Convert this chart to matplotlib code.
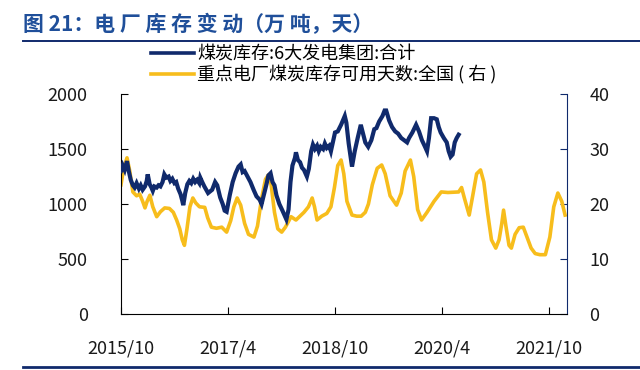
import matplotlib
matplotlib.use("Agg")
import matplotlib.pyplot as plt
from matplotlib.lines import Line2D
import pandas as pd

plt.rcParams['font.family'] = ['Noto Sans CJK SC', 'DejaVu Sans']

navy = '#102a6c'
gold = '#f7bd1c'

# 煤炭库存:6大发电集团:合计 (万吨)
stock_dates = [
    '2015-10-01', '2015-10-10', '2015-10-20', '2015-11-01', '2015-11-10', '2015-11-20',
    '2015-12-01', '2015-12-10', '2015-12-20', '2016-01-01', '2016-01-10', '2016-01-20',
    '2016-02-01', '2016-02-10', '2016-02-15', '2016-02-25', '2016-03-05', '2016-03-12',
    '2016-03-20', '2016-04-01', '2016-04-10', '2016-04-20', '2016-05-01', '2016-05-10',
    '2016-05-20', '2016-06-01', '2016-06-10', '2016-06-20', '2016-07-01', '2016-07-10',
    '2016-07-20', '2016-08-01', '2016-08-10', '2016-08-15', '2016-08-25', '2016-09-05',
    '2016-09-15', '2016-09-25', '2016-10-05', '2016-10-15', '2016-10-25', '2016-11-05',
    '2016-11-10', '2016-11-20', '2016-12-01', '2016-12-20', '2017-01-10', '2017-01-25',
    '2017-02-05', '2017-02-20', '2017-03-05', '2017-03-15', '2017-03-25', '2017-04-10',
    '2017-04-25', '2017-05-10', '2017-05-25', '2017-06-05', '2017-06-15', '2017-06-25',
    '2017-07-10', '2017-07-25', '2017-08-10', '2017-08-25', '2017-09-10', '2017-09-20',
    '2017-10-01', '2017-10-15', '2017-10-25', '2017-11-05', '2017-11-15', '2017-11-25',
    '2017-12-05', '2017-12-20', '2018-01-05', '2018-01-15', '2018-01-25', '2018-02-05',
    '2018-02-15', '2018-02-25', '2018-03-10', '2018-03-15', '2018-03-25', '2018-04-05',
    '2018-04-15', '2018-04-25', '2018-05-10', '2018-05-20', '2018-06-01', '2018-06-10',
    '2018-06-20', '2018-07-01', '2018-07-10', '2018-07-20', '2018-08-01', '2018-08-10',
    '2018-08-20', '2018-09-01', '2018-09-10', '2018-09-20', '2018-10-01', '2018-10-15',
    '2018-11-01', '2018-11-20', '2018-11-28', '2018-12-10', '2018-12-27', '2019-01-10',
    '2019-01-25', '2019-02-10', '2019-02-20', '2019-03-05', '2019-03-20', '2019-04-05',
    '2019-04-20', '2019-05-01', '2019-05-15', '2019-06-01', '2019-06-12', '2019-06-20',
    '2019-07-05', '2019-07-20', '2019-08-05', '2019-08-20', '2019-09-05', '2019-09-20',
    '2019-10-05', '2019-10-15', '2019-11-01', '2019-11-20', '2019-12-05', '2019-12-20',
    '2020-01-05', '2020-01-15', '2020-01-25', '2020-02-05', '2020-02-20', '2020-03-05',
    '2020-03-15', '2020-03-25', '2020-04-10', '2020-04-25', '2020-05-05', '2020-05-15',
    '2020-05-25', '2020-06-05', '2020-06-15', '2020-06-25',
]
stock_values = [
    1300, 1350, 1310, 1390, 1300, 1220,
    1170, 1150, 1190, 1140, 1170, 1130,
    1160, 1210, 1270, 1180, 1150, 1120,
    1160, 1150, 1170, 1160, 1200, 1270,
    1240, 1250, 1210, 1230, 1190, 1200,
    1140, 1090, 1030, 990, 1100, 1180,
    1210, 1190, 1230, 1200, 1220, 1190,
    1240, 1200, 1160, 1100, 1130, 1200,
    1170, 1060, 1000, 940, 930, 1080,
    1200, 1280, 1340, 1360, 1290, 1300,
    1250, 1200, 1130, 1070, 1040, 1000,
    1080, 1180, 1260, 1280, 1200, 1170,
    1080, 1000, 940, 900, 860, 950,
    1200, 1350, 1420, 1470, 1400, 1380,
    1330, 1310, 1250, 1320, 1480, 1540,
    1500, 1530, 1480, 1520, 1500, 1550,
    1510, 1530, 1480, 1560, 1650, 1660,
    1720, 1800, 1740, 1550, 1340, 1480,
    1600, 1720, 1650, 1560, 1520, 1580,
    1680, 1690, 1750, 1800, 1850, 1850,
    1760, 1700, 1660, 1640, 1600, 1580,
    1560, 1600, 1650, 1720, 1660, 1580,
    1520, 1480, 1600, 1780, 1780, 1770,
    1700, 1650, 1600, 1560, 1480, 1430,
    1450, 1560, 1600, 1630,
]

# 重点电厂煤炭库存可用天数:全国 (天, 右轴)
days_dates = [
    '2015-10-01', '2015-10-15', '2015-11-01', '2015-11-15', '2015-12-01', '2015-12-20',
    '2016-01-05', '2016-01-20', '2016-02-01', '2016-02-12', '2016-02-26', '2016-03-12',
    '2016-04-01', '2016-04-20', '2016-05-12', '2016-06-05', '2016-06-25', '2016-07-12',
    '2016-07-28', '2016-08-10', '2016-08-21', '2016-09-03', '2016-09-18', '2016-10-03',
    '2016-10-18', '2016-11-06', '2016-12-03', '2016-12-18', '2017-01-06', '2017-02-01',
    '2017-02-28', '2017-03-25', '2017-04-15', '2017-05-01', '2017-05-18', '2017-06-05',
    '2017-06-25', '2017-07-15', '2017-08-12', '2017-08-30', '2017-09-20', '2017-10-10',
    '2017-10-25', '2017-11-08', '2017-11-25', '2017-12-12', '2018-01-01', '2018-01-20',
    '2018-02-18', '2018-03-15', '2018-04-25', '2018-05-18', '2018-06-06', '2018-06-18',
    '2018-07-01', '2018-07-25', '2018-08-20', '2018-09-10', '2018-09-28', '2018-10-15',
    '2018-11-01', '2018-11-15', '2018-12-01', '2018-12-27', '2019-01-20', '2019-02-12',
    '2019-03-05', '2019-03-21', '2019-04-10', '2019-05-05', '2019-05-28', '2019-06-15',
    '2019-07-10', '2019-08-12', '2019-09-05', '2019-09-25', '2019-10-22', '2019-11-08',
    '2019-11-28', '2019-12-18', '2020-01-15', '2020-02-20', '2020-03-28', '2020-05-01',
    '2020-06-25', '2020-07-10', '2020-07-25', '2020-08-18', '2020-09-05', '2020-09-25',
    '2020-10-15', '2020-11-01', '2020-11-20', '2020-12-10', '2021-01-01', '2021-01-18',
    '2021-02-01', '2021-02-10', '2021-02-22', '2021-03-10', '2021-03-22', '2021-04-10',
    '2021-05-01', '2021-05-22', '2021-06-10', '2021-07-01', '2021-07-22', '2021-08-15',
    '2021-09-12', '2021-10-05', '2021-10-25', '2021-11-15', '2021-12-05', '2021-12-22',
]
days_values = [
    23.5, 26.5, 28.4, 26.0, 22.2, 21.5,
    21.8, 20.5, 19.3, 20.5, 21.6, 19.5,
    17.7, 18.6, 19.3, 19.2, 18.5, 17.1,
    15.5, 13.5, 12.5, 15.5, 19.5, 21.1,
    20.2, 19.5, 19.4, 17.5, 15.8, 15.6,
    15.8, 14.9, 17.0, 19.5, 21.1, 19.8,
    16.5, 14.5, 14.0, 16.0, 21.0, 24.5,
    25.3, 23.5, 18.5, 15.5, 14.9, 15.8,
    17.7, 17.1, 18.5, 19.5, 21.1, 19.5,
    17.1, 17.8, 18.3, 19.5, 23.0, 27.0,
    28.0, 25.5, 20.5, 18.0, 17.8, 17.8,
    18.5, 20.0, 23.5, 26.5, 27.1, 25.5,
    21.5, 19.8, 22.0, 26.0, 28.0, 25.0,
    19.0, 17.1, 18.5, 20.5, 22.2, 22.1,
    22.2, 23.0, 21.0, 18.0, 21.5, 25.5,
    26.2, 24.0, 18.5, 13.5, 12.0, 13.5,
    16.5, 18.9, 16.0, 12.5, 12.0, 14.5,
    15.7, 15.8, 14.0, 12.0, 11.0, 10.8,
    10.8, 14.0, 19.5, 22.0, 20.5, 18.0,
]

tick_dates = ['2015-10-01', '2017-04-01', '2018-10-01', '2020-04-01', '2021-10-01']
tick_labels = ['2015/10', '2017/4', '2018/10', '2020/4', '2021/10']

fig = plt.figure(figsize=(6.4, 3.7), dpi=100)
ax = fig.add_axes([0.189, 0.151, 0.697, 0.595])
ax2 = ax.twinx()

ax2.plot(pd.to_datetime(days_dates), days_values, color=gold, lw=2.6,
         solid_joinstyle='round', zorder=2)
ax.plot(pd.to_datetime(stock_dates), stock_values, color=navy, lw=3.0,
        solid_joinstyle='miter', zorder=3)
ax.set_zorder(ax2.get_zorder() + 1)
ax.patch.set_visible(False)

ax.set_xlim(pd.Timestamp('2015-10-01'), pd.Timestamp('2022-01-01'))
ax.set_ylim(0, 2000)
ax2.set_ylim(0, 40)
ax.set_yticks([0, 500, 1000, 1500, 2000])
ax2.set_yticks([0, 10, 20, 30, 40])
ax.set_xticks(pd.to_datetime(tick_dates))
ax.set_xticklabels(tick_labels)

for a in (ax, ax2):
    a.spines['top'].set_visible(False)
ax.spines['right'].set_visible(False)
ax2.spines['left'].set_visible(False)
ax2.spines['bottom'].set_visible(False)
ax2.spines['right'].set_color(navy)
ax.spines['left'].set_color('black')
ax.spines['bottom'].set_color('black')

ax.tick_params(axis='y', direction='in', length=5, pad=24, labelsize=13, colors='black', labelcolor='#1a1a1a')
ax.tick_params(axis='x', direction='in', length=5, pad=18, labelsize=13, colors='black', labelcolor='#1a1a1a')
ax2.tick_params(axis='y', direction='in', length=5, pad=16, labelsize=13, colors=navy, labelcolor='#1a1a1a')

handles = [Line2D([], [], color=navy, lw=2.6), Line2D([], [], color=gold, lw=2.6)]
labels = ['煤炭库存:6大发电集团:合计', '重点电厂煤炭库存可用天数:全国 ( 右 )']
fig.legend(handles, labels, loc='upper left', bbox_to_anchor=(0.236, 0.877),
           frameon=False, fontsize=13, handlelength=2.4, handletextpad=0.15,
           labelspacing=0.1, borderpad=0, borderaxespad=0)

fig.text(0.036, 0.916, '图 21：电 厂 库 存 变 动（万 吨，天）', color='#1f4f9a',
         fontsize=15, fontweight='bold', va='baseline')
fig.add_artist(Line2D([0.036, 1.0], [0.889, 0.889], color=navy, lw=1.4))
fig.add_artist(Line2D([0.036, 1.0], [0.008, 0.008], color=navy, lw=2.0))

fig.savefig('out.png', dpi=100)
